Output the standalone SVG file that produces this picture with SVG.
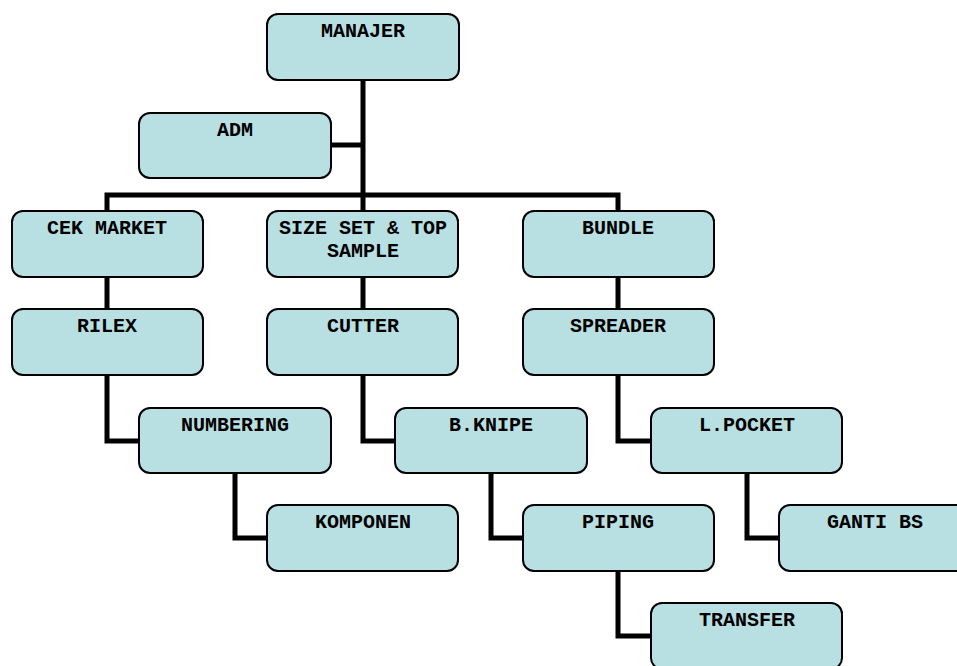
<svg xmlns="http://www.w3.org/2000/svg" width="957" height="666" viewBox="0 0 957 666">
<style>
.box{fill:#b8dfe2;stroke:#000;stroke-width:2}
.lbl{font-family:"Liberation Mono","Courier New",monospace;font-weight:bold;font-size:20px;fill:#000;text-anchor:middle}
.conn{fill:none;stroke:#000;stroke-width:5;stroke-linejoin:miter;stroke-linecap:butt}
</style>
<rect width="957" height="666" fill="#fff"/>
<g id="connectors" class="conn">
<path d="M363 80 V309"/>
<path d="M331 145 H363"/>
<path d="M107 211 V195 H618 V211"/>
<path d="M107 277 V309"/>
<path d="M618 277 V309"/>
<path d="M107 375 V441 H139"/>
<path d="M363 375 V441 H395"/>
<path d="M618 375 V441 H651"/>
<path d="M235 473 V538 H267"/>
<path d="M491 473 V538 H523"/>
<path d="M747 473 V538 H779"/>
<path d="M618 571 V636 H651"/>
</g>
<g id="manajer"><rect class="box" x="267" y="14" width="192" height="66" rx="11"/><text class="lbl" x="363" y="37">MANAJER</text></g>
<g id="adm"><rect class="box" x="139" y="113" width="192" height="65" rx="11"/><text class="lbl" x="235" y="136">ADM</text></g>
<g id="cek-market"><rect class="box" x="12" y="211" width="191" height="66" rx="11"/><text class="lbl" x="107" y="234">CEK MARKET</text></g>
<g id="size-set"><rect class="box" x="267" y="211" width="191" height="66" rx="11"/><text class="lbl" x="363" y="234">SIZE SET &amp; TOP</text><text class="lbl" x="363" y="257">SAMPLE</text></g>
<g id="bundle"><rect class="box" x="523" y="211" width="191" height="66" rx="11"/><text class="lbl" x="618" y="234">BUNDLE</text></g>
<g id="rilex"><rect class="box" x="12" y="309" width="191" height="66" rx="11"/><text class="lbl" x="107" y="332">RILEX</text></g>
<g id="cutter"><rect class="box" x="267" y="309" width="191" height="66" rx="11"/><text class="lbl" x="363" y="332">CUTTER</text></g>
<g id="spreader"><rect class="box" x="523" y="309" width="191" height="66" rx="11"/><text class="lbl" x="618" y="332">SPREADER</text></g>
<g id="numbering"><rect class="box" x="139" y="408" width="192" height="65" rx="11"/><text class="lbl" x="235" y="431">NUMBERING</text></g>
<g id="b-knipe"><rect class="box" x="395" y="408" width="192" height="65" rx="11"/><text class="lbl" x="491" y="431">B.KNIPE</text></g>
<g id="l-pocket"><rect class="box" x="651" y="408" width="191" height="65" rx="11"/><text class="lbl" x="747" y="431">L.POCKET</text></g>
<g id="komponen"><rect class="box" x="267" y="505" width="191" height="66" rx="11"/><text class="lbl" x="363" y="528">KOMPONEN</text></g>
<g id="piping"><rect class="box" x="523" y="505" width="191" height="66" rx="11"/><text class="lbl" x="618" y="528">PIPING</text></g>
<g id="ganti-bs"><rect class="box" x="779" y="505" width="192" height="66" rx="11"/><text class="lbl" x="875" y="528">GANTI BS</text></g>
<g id="transfer"><rect class="box" x="651" y="603" width="191" height="66" rx="11"/><text class="lbl" x="747" y="626">TRANSFER</text></g>
</svg>
